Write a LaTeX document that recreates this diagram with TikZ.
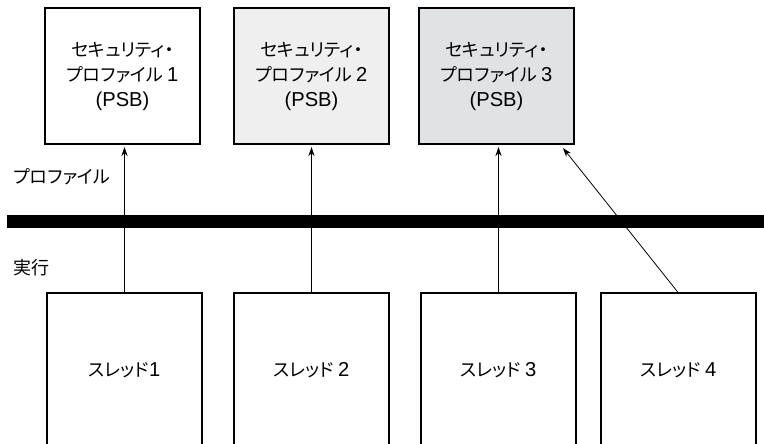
\documentclass[tikz,border=0pt]{standalone}
\usepackage{fontspec}
\setmainfont{Noto Sans CJK JP}[RawFeature=+palt]
\newfontfamily\latfont{Liberation Sans}[Scale=1.12]
\newcommand{\lat}[1]{{\latfont #1}}
\usetikzlibrary{arrows.meta}
\usetikzlibrary{positioning,calc}

\definecolor{psbgray}{HTML}{EFEFEF}
\definecolor{psbdark}{HTML}{E1E2E4}

\begin{document}
\begin{tikzpicture}[x=1pt,y=-1pt,
        every node/.style={font=\fontsize{18}{25}\selectfont},
        psb/.style={draw,line width=1.4pt,rectangle,minimum width=155pt,minimum height=136pt,
                    align=center,inner sep=0pt,outer sep=0pt},
        thread/.style={draw,line width=1.4pt,rectangle,minimum width=155pt,minimum height=154pt,
                    inner sep=0pt,outer sep=0pt},
        link/.style={line width=0.8pt,-{Stealth[length=9pt,width=6pt]},shorten >=3pt}]
   \useasboundingbox (0,0) rectangle (764,444);

   % profiles
   \node (P1) [psb,anchor=north west] at (45,8) {セキュリティ・\\プロファイル \lat{1}\\\lat{(PSB)}};
   \node (P2) [psb,fill=psbgray,right=34pt of P1] {セキュリティ・\\プロファイル \lat{2}\\\lat{(PSB)}};
   \node (P3) [psb,fill=psbdark,right=30pt of P2] {セキュリティ・\\プロファイル \lat{3}\\\lat{(PSB)}};

   % threads
   \node (T1) [thread,anchor=north west] at (47,293) {スレッド\lat{1}};
   \node (T2) [thread,right=32pt of T1] {スレッド \lat{2}};
   \node (T3) [thread,right=32pt of T2] {スレッド \lat{3}};
   \node (T4) [thread,right=25pt of T3] {スレッド \lat{4}};

   % separator
   \coordinate (barL) at (7,221.5);
   \coordinate (barR) at (764,221.5);
   \node (lprof) [anchor=west] at (10,177) {プロファイル};
   \node (lexec) [anchor=west] at (10,268) {実行};

   \draw[link] (T1.north) -- (T1.north |- P1.south);
   \draw[link] (T2.north) -- (T2.north |- P2.south);
   \draw[link] (T3.north) -- (T3.north |- P3.south);
   \coordinate (P3in) at ($(P3.south east)+(-11,4)$);
   \draw[link,shorten >=0pt] (T4.north) -- (P3in);

   \draw[line width=13pt] (barL) -- (barR);

\end{tikzpicture}
\end{document}
